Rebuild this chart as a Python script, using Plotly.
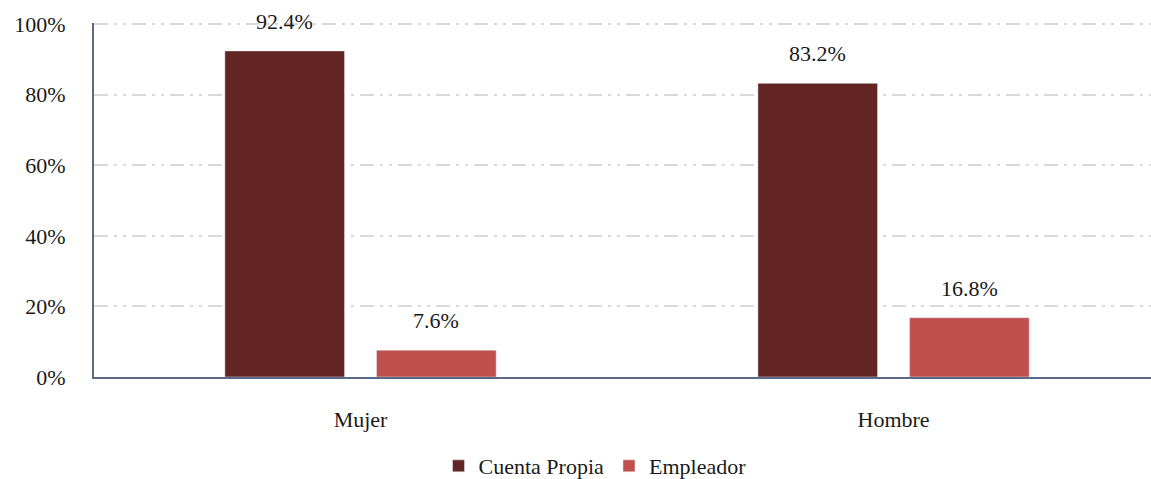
import plotly.graph_objects as go

categories = ["Mujer", "Hombre"]
cuenta_propia = [92.4, 83.2]
empleador = [7.6, 16.8]
y_ticks = [0, 20, 40, 60, 80, 100]
y_tick_labels = ["0%", "20%", "40%", "60%", "80%", "100%"]

FONT = "Liberation Serif"
TEXT_COLOR = "#1a1a1a"
BAR_SLOT_PX = 151.5  # horizontal distance between the two bars of a group

fig = go.Figure()
fig.add_trace(go.Bar(
    name="Cuenta Propia", x=categories, y=cuenta_propia,
    marker_color="#632523",
))
fig.add_trace(go.Bar(
    name="Empleador", x=categories, y=empleador,
    marker_color="#c0504d",
))

# value labels above each bar
for series, shift in ((cuenta_propia, -BAR_SLOT_PX / 2), (empleador, BAR_SLOT_PX / 2)):
    for cat, val in zip(categories, series):
        fig.add_annotation(
            x=cat, y=val, xref="x", yref="y",
            text=f"{val:.1f}%", showarrow=False,
            xshift=shift, yshift=15, yanchor="bottom",
            font=dict(family=FONT, size=22, color=TEXT_COLOR),
        )

fig.update_layout(
    width=1151, height=479,
    margin=dict(l=94, r=0, t=23, b=102),
    paper_bgcolor="white", plot_bgcolor="white",
    barmode="group", bargap=0.431, bargroupgap=0.211,
    showlegend=True,
    legend=dict(
        orientation="h", x=0.474, xanchor="center",
        yref="container", y=0.027, yanchor="middle",
        font=dict(family=FONT, size=22, color=TEXT_COLOR),
        itemwidth=30, traceorder="normal",
    ),
    xaxis=dict(
        range=[-0.5, 1.483],
        showline=True, linecolor="#5a6a85", linewidth=2,
        showgrid=False, ticks="", ticklabelstandoff=22,
        tickfont=dict(family=FONT, size=22, color=TEXT_COLOR),
    ),
    yaxis=dict(
        range=[0, 100.3],
        tickvals=y_ticks, ticktext=y_tick_labels,
        showline=True, linecolor="#5a6a85", linewidth=2,
        showgrid=True, gridcolor="#d9d9d9", gridwidth=1.5,
        griddash="14px,6px,3px,6px,3px,6px",
        zeroline=False, ticks="", ticklabelstandoff=22,
        tickfont=dict(family=FONT, size=22, color=TEXT_COLOR),
    ),
)

fig.write_html("out.html")
